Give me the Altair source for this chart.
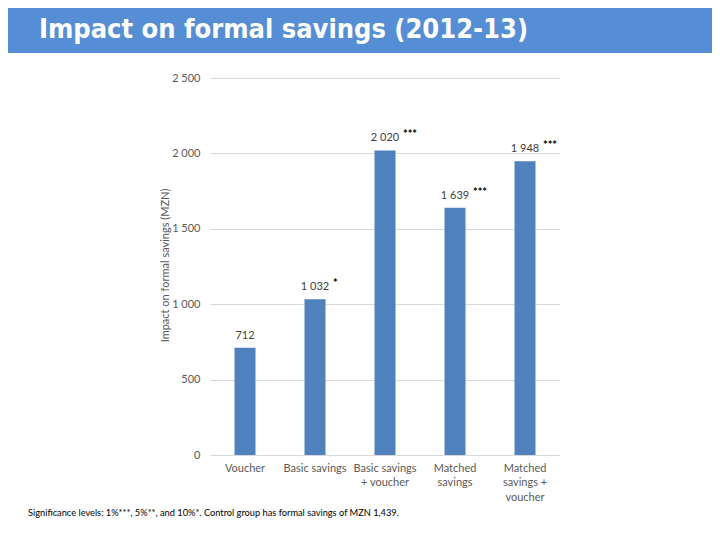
import altair as alt
import pandas as pd

# ---- data ----
categories = ["Voucher", "Basic savings", "Basic savings\n+ voucher", "Matched\nsavings", "Matched\nsavings +\nvoucher"]
values = [712, 1032, 2020, 1639, 1948]
significance = ["", "*", "***", "***", "***"]
y_ticks = [0, 500, 1000, 1500, 2000, 2500]

title_text = "Impact on formal savings (2012-13)"
y_title = "Impact on formal savings (MZN)"
footnote = "Significance levels: 1%***, 5%**, and 10%*. Control group has formal savings of MZN 1,439."

df = pd.DataFrame({"cat": categories, "val": values, "sig": significance})
one = pd.DataFrame({"t": [title_text], "f": [footnote]})

FONT = "Lato"
W, H = 350, 377
PAD_L, PAD_T = 202, 70

x_enc = alt.X("cat:N", sort=None, title=None,
              scale=alt.Scale(paddingInner=0.7, paddingOuter=0.35),
              axis=alt.Axis(labelAngle=0, domain=False, ticks=False, labelPadding=7,
                            labelExpr="split(datum.label, '\\n')", labelLineHeight=14.5,
                            labelBaseline="top", labelColor="#595959", labelFontSize=11,
                            labelFont=FONT))
y_enc = alt.Y("val:Q", scale=alt.Scale(domain=[0, 2500], nice=False),
              axis=alt.Axis(values=y_ticks, labelExpr="replace(datum.label, ',', ' ')",
                            grid=True, gridColor="#D9D9D9", domain=False, ticks=False,
                            labelPadding=10, labelColor="#595959", labelFontSize=11, labelFont=FONT,
                            title=y_title, titleFontWeight="normal", titleColor="#595959",
                            titleFontSize=11, titleFont=FONT, titleX=-45, titleY=187,
                            titleAngle=270, titleAlign="center", titleBaseline="middle"))

base = alt.Chart(df).transform_calculate(
    lab="replace(format(datum.val, ','), ',', ' ')"
)

bars = base.mark_bar(color="#4F81BD", size=21).encode(x=x_enc, y=y_enc)

labels = base.mark_text(baseline="bottom", dy=-7, fontSize=11, font=FONT, color="#404040").encode(
    x=alt.X("cat:N", sort=None), y=alt.Y("val:Q"), text="lab:N")

stars = base.mark_text(align="left", baseline="bottom", dx=18, dy=-10, fontSize=11,
                       fontWeight="bold", font=FONT, color="#000000").encode(
    x=alt.X("cat:N", sort=None), y=alt.Y("val:Q"), text="sig:N")

banner = alt.Chart(one).mark_rect(color="#558ED5").encode(
    x=alt.value(-PAD_L - 8), x2=alt.value(720 - PAD_L), y=alt.value(-PAD_T - 8), y2=alt.value(53 - 8 - PAD_T))

title = alt.Chart(one).mark_text(align="left", baseline="alphabetic", font="DejaVu Sans Condensed",
                                 fontWeight="bold", fontSize=27, color="white").encode(
    x=alt.value(39 - 8 - PAD_L), y=alt.value(38 - 8 - PAD_T), text="t:N")

foot = alt.Chart(one).mark_text(align="left", baseline="middle", font=FONT, fontSize=9.25,
                                color="#000000").encode(
    x=alt.value(28 - 8 - PAD_L), y=alt.value(513 - 8 - PAD_T), text="f:N")

chart = alt.layer(banner, bars, labels, stars, title, foot).properties(
    width=W, height=H,
    autosize=alt.AutoSizeParams(type="none"),
    padding={"left": PAD_L, "top": PAD_T, "right": 704 - PAD_L - W, "bottom": 524 - PAD_T - H},
).configure(background="white").configure_view(stroke=None)

chart.save("out.html", embed_options={"renderer": "svg", "actions": False})
